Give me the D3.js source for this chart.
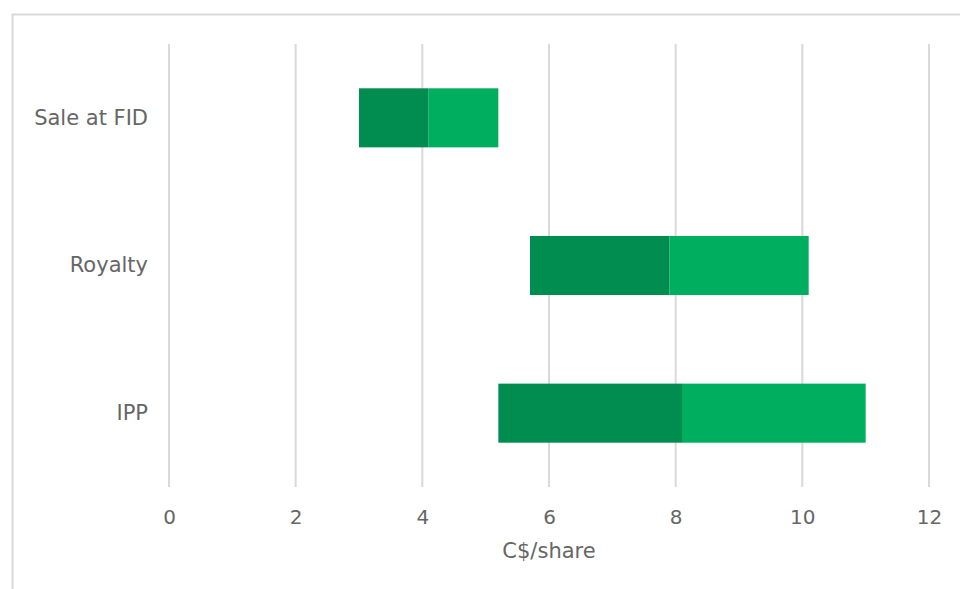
<!DOCTYPE html>
<html>
<head>
<meta charset="utf-8">
<script src="https://cdn.jsdelivr.net/npm/d3@7"></script>
<style>
  html, body { margin: 0; padding: 0; background: #fff; }
  svg { display: block; }
  text { font-family: "DejaVu Sans", Verdana, sans-serif; fill: #666; }
</style>
</head>
<body>
<svg id="chart" width="960" height="589"></svg>
<script>
// Valuation ranges by approach (C$/share)
const categories = ["Sale at FID", "Royalty", "IPP"];
const lowValues  = [3.0, 5.7, 5.2];   // start of range
const midValues  = [4.1, 7.9, 8.1];   // split between the two shades
const highValues = [5.2, 10.1, 11.0]; // end of range
const tickValues = [0, 2, 4, 6, 8, 10, 12];
const axisTitle = "C$/share";

const colorLow = "#008d4f";
const colorHigh = "#00ae5f";

const W = 960, H = 589;
const margin = { left: 169, right: 31, top: 44, bottom: 102 };

const svg = d3.select("#chart");

// outer frame
svg.append("rect")
  .attr("x", 12.5).attr("y", 14.5)
  .attr("width", W + 10).attr("height", H + 10)
  .attr("fill", "none").attr("stroke", "#d9d9d9").attr("stroke-width", 2);

const x = d3.scaleLinear().domain([0, 12]).range([margin.left, W - margin.right]);
const y = d3.scaleBand().domain(categories)
  .range([margin.top, H - margin.bottom]).paddingInner(0.6).paddingOuter(0.3);

// tick labels
const xAxis = d3.axisBottom(x).tickValues(tickValues).tickSize(0).tickPadding(0);
const gx = svg.append("g").attr("transform", `translate(0,${H - margin.bottom})`).call(xAxis);
gx.select(".domain").remove();
gx.selectAll("text").attr("y", 23).style("font-size", "20px").attr("fill", "#666");

// vertical gridlines
svg.append("g").selectAll("line").data(tickValues).join("line")
  .attr("x1", d => x(d)).attr("x2", d => x(d))
  .attr("y1", margin.top).attr("y2", H - margin.bottom)
  .attr("stroke", "#d9d9d9").attr("stroke-width", 2);

// category labels
const yAxis = d3.axisLeft(y).tickSize(0).tickPadding(21);
const gy = svg.append("g").attr("transform", `translate(${margin.left},0)`).call(yAxis);
gy.select(".domain").remove();
gy.selectAll("text").style("font-size", "21px").attr("fill", "#666");

// range bars
const rows = categories.map((c, i) => ({ c, lo: lowValues[i], mid: midValues[i], hi: highValues[i] }));
const bars = svg.append("g");
bars.selectAll("rect.low").data(rows).join("rect").attr("class", "low")
  .attr("x", d => x(d.lo)).attr("width", d => x(d.mid) - x(d.lo))
  .attr("y", d => y(d.c)).attr("height", y.bandwidth())
  .attr("fill", colorLow);
bars.selectAll("rect.high").data(rows).join("rect").attr("class", "high")
  .attr("x", d => x(d.mid)).attr("width", d => x(d.hi) - x(d.mid))
  .attr("y", d => y(d.c)).attr("height", y.bandwidth())
  .attr("fill", colorHigh);

// axis title
svg.append("text")
  .attr("x", (x(0) + x(12)) / 2).attr("y", 558)
  .attr("text-anchor", "middle").style("font-size", "21px")
  .text(axisTitle);
</script>
</body>
</html>
